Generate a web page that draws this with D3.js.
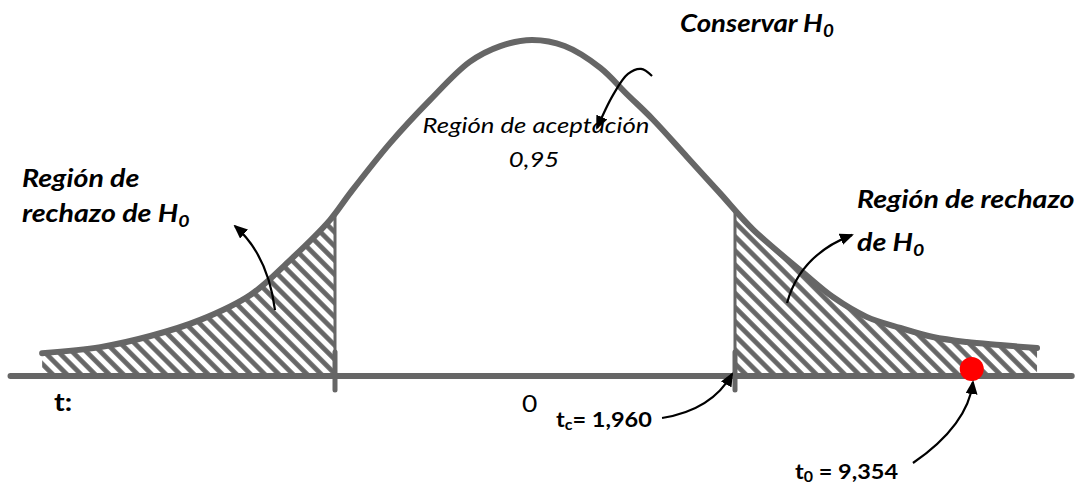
<!DOCTYPE html>
<html>
<head>
<meta charset="utf-8">
<script src="https://cdn.jsdelivr.net/npm/d3@7"></script>
<style>
  html, body { margin: 0; padding: 0; background: #fff; }
  svg { display: block; }
  text { font-family: Lato, "Open Sans", sans-serif; fill: #000; }
</style>
</head>
<body>
<svg id="chart" width="1081" height="486"></svg>
<script>
// ---- data ----
const tValues = [-4.83,-4.26,-3.77,-3.28,-2.79,-2.40,-2.01,-1.81,-1.42,-1.03,-0.64,-0.34,-0.03,0.29,0.64,0.90,1.16,1.49,1.81,2.14,2.63,2.92,3.25,3.58,3.90,4.23,4.56,4.92];
const density = [0.068,0.086,0.119,0.167,0.241,0.345,0.464,0.545,0.693,0.821,0.935,0.982,1.0,0.982,0.917,0.839,0.762,0.652,0.545,0.435,0.307,0.235,0.176,0.143,0.116,0.101,0.092,0.083];
const criticalValues = [-1.96, 1.96];
const axisExtent = [-5.14, 5.26];
const observedPosition = 4.28;   // where t0 is drawn (axis is broken)
const labels = {
  accept: "Región de aceptación",
  acceptProb: "0,95",
  keep: "Conservar H",
  rejectLeft1: "Región de",
  rejectLeft2: "rechazo de H",
  rejectRight1: "Región de rechazo",
  rejectRight2: "de H",
  axisName: "t:",
  zero: "0",
  tc: "1,960",
  t0: "9,354"
};
// annotation arrows: [start, control(s)..., tip] in (t, density) units
const arrowLeft   = [[-2.548,0.196],[-2.617,0.360],[-2.940,0.446]];
const arrowRight  = [[2.470,0.217],[2.597,0.360],[3.107,0.420]];
const arrowCenter = [[1.147,0.893],[1.039,0.914],[0.911,0.899],[0.764,0.836],[0.608,0.738]];
const arrowTc     = [[1.245,-0.125],[1.735,-0.101],[1.931,0.006]];
const arrowT0     = [[3.704,-0.259],[4.243,-0.146],[4.292,-0.018]];

// ---- drawing ----
const svg = d3.select("#chart");
const gray = "#666666";
const x = d3.scaleLinear().domain([-1.96, 1.96]).range([335, 735]);
const y = d3.scaleLinear().domain([0, 1]).range([376, 40]);
const pts = tValues.map((t, i) => [t, density[i]]);

const defs = svg.append("defs");
const pat = defs.append("pattern")
  .attr("id", "hatch").attr("patternUnits", "userSpaceOnUse")
  .attr("width", 10).attr("height", 10)
  .attr("patternTransform", "rotate(-45)");
pat.append("rect").attr("width", 10).attr("height", 10).attr("fill", "#fff");
pat.append("line").attr("x1", 2.5).attr("y1", 0).attr("x2", 2.5).attr("y2", 10)
  .attr("stroke", gray).attr("stroke-width", 4.8);

const area = d3.area().x(d => x(d[0])).y0(y(0)).y1(d => y(d[1])).curve(d3.curveCatmullRom);
const line = d3.line().x(d => x(d[0])).y(d => y(d[1])).curve(d3.curveCatmullRom);

defs.append("clipPath").attr("id", "underCurve")
  .append("path").attr("d", area(pts));
defs.append("clipPath").attr("id", "leftTail")
  .append("rect").attr("x", 0).attr("y", 0)
  .attr("width", x(criticalValues[0])).attr("height", 486);
defs.append("clipPath").attr("id", "rightTail")
  .append("rect").attr("x", x(criticalValues[1])).attr("y", 0)
  .attr("width", 1081 - x(criticalValues[1])).attr("height", 486);

// hatched rejection regions
["leftTail", "rightTail"].forEach(id => {
  svg.append("g").attr("clip-path", `url(#${id})`)
    .append("path").attr("d", area(pts)).attr("fill", "url(#hatch)");
});

// vertical boundaries at critical values (inside the curve)
svg.append("g").attr("clip-path", "url(#underCurve)")
  .selectAll("line").data(criticalValues).join("line")
  .attr("x1", d => x(d)).attr("x2", d => x(d))
  .attr("y1", 0).attr("y2", y(0))
  .attr("stroke", gray).attr("stroke-width", 3);

// axis line
svg.append("line")
  .attr("x1", x(axisExtent[0])).attr("x2", x(axisExtent[1]))
  .attr("y1", y(0)).attr("y2", y(0))
  .attr("stroke", gray).attr("stroke-width", 6).attr("stroke-linecap", "round");

// tick marks at critical values
svg.selectAll(".tick").data(criticalValues).join("line")
  .attr("class", "tick")
  .attr("x1", d => x(d)).attr("x2", d => x(d))
  .attr("y1", y(0) - 24).attr("y2", y(0) + 14)
  .attr("stroke", gray).attr("stroke-width", 5).attr("stroke-linecap", "round");

// curve
svg.append("path").attr("d", line(pts))
  .attr("fill", "none").attr("stroke", gray).attr("stroke-width", 6)
  .attr("stroke-linecap", "round").attr("stroke-linejoin", "round");

// observed statistic
svg.append("circle").attr("cx", x(observedPosition)).attr("cy", y(0) - 7)
  .attr("r", 12).attr("fill", "#ff0000");

// arrows
defs.append("marker").attr("id", "head")
  .attr("markerUnits", "userSpaceOnUse")
  .attr("viewBox", "0 -6 14 12").attr("refX", 12).attr("refY", 0)
  .attr("markerWidth", 14).attr("markerHeight", 12).attr("orient", "auto")
  .append("path").attr("d", "M0,-6L14,0L0,6Z").attr("fill", "#000");
const arrowLine = d3.line().x(d => x(d[0])).y(d => y(d[1])).curve(d3.curveCatmullRom);
function arrow(p) {
  let d;
  if (p.length === 3) {
    const pp = d3.path();
    pp.moveTo(x(p[0][0]), y(p[0][1]));
    pp.quadraticCurveTo(x(p[1][0]), y(p[1][1]), x(p[2][0]), y(p[2][1]));
    d = pp.toString();
  } else {
    d = arrowLine(p);
  }
  svg.append("path").attr("d", d).attr("fill", "none")
    .attr("stroke", "#000").attr("stroke-width", 2.2).attr("marker-end", "url(#head)");
}
[arrowLeft, arrowRight, arrowCenter, arrowTc, arrowT0].forEach(arrow);

// texts (the reference lettering is horizontally stretched)
function label(xp, yp, parts, style) {
  const g = svg.append("g")
    .attr("transform", `translate(${xp},${yp}) scale(${style.sx || 1},1)`);
  const t = g.append("text").attr("x", 0).attr("y", 0)
    .attr("font-size", style.size).attr("font-weight", style.weight || "normal")
    .attr("font-style", style.italic ? "italic" : "normal")
    .attr("text-anchor", style.anchor || "start");
  let shift = 0;
  parts.forEach(p => {
    const ts = t.append("tspan");
    if (p.sub) {
      const dy = style.size * (style.subDrop || 0.2);
      ts.attr("font-size", style.size * 0.68).attr("dy", dy).text(p.sub);
      shift = dy;
    } else {
      if (shift) ts.attr("dy", -shift);
      shift = 0;
      ts.text(p.s);
    }
  });
  return t;
}
const boldIt = { size: 24, weight: "bold", italic: true, sx: 1.19 };
label(680, 32, [{ s: labels.keep }, { sub: "0" }], { ...boldIt, sx: 1.15 });
label(22, 187, [{ s: labels.rejectLeft1 }], boldIt);
label(22, 222, [{ s: labels.rejectLeft2 }, { sub: "0" }], boldIt);
label(857, 208, [{ s: labels.rejectRight1 }], boldIt);
label(857, 251, [{ s: labels.rejectRight2 }, { sub: "0" }], boldIt);
label(x(0) + 1, 133, [{ s: labels.accept }], { size: 22, italic: true, anchor: "middle", sx: 1.17 });
label(x(0) - 1, 167, [{ s: labels.acceptProb }], { size: 22, italic: true, anchor: "middle", sx: 1.17 });
label(54, 411, [{ s: labels.axisName }], { size: 24, weight: "bold", sx: 1.2 });
label(522, 412, [{ s: labels.zero }], { size: 24, sx: 1.1 });
label(556, 427, [{ s: "t" }, { sub: "c" }, { s: "= " + labels.tc }], { size: 21, weight: "bold", sx: 1.12, subDrop: 0.15 });
label(795, 479, [{ s: "t" }, { sub: "0" }, { s: " = " + labels.t0 }], { size: 21, weight: "bold", sx: 1.12, subDrop: 0.12 });
</script>
</body>
</html>
